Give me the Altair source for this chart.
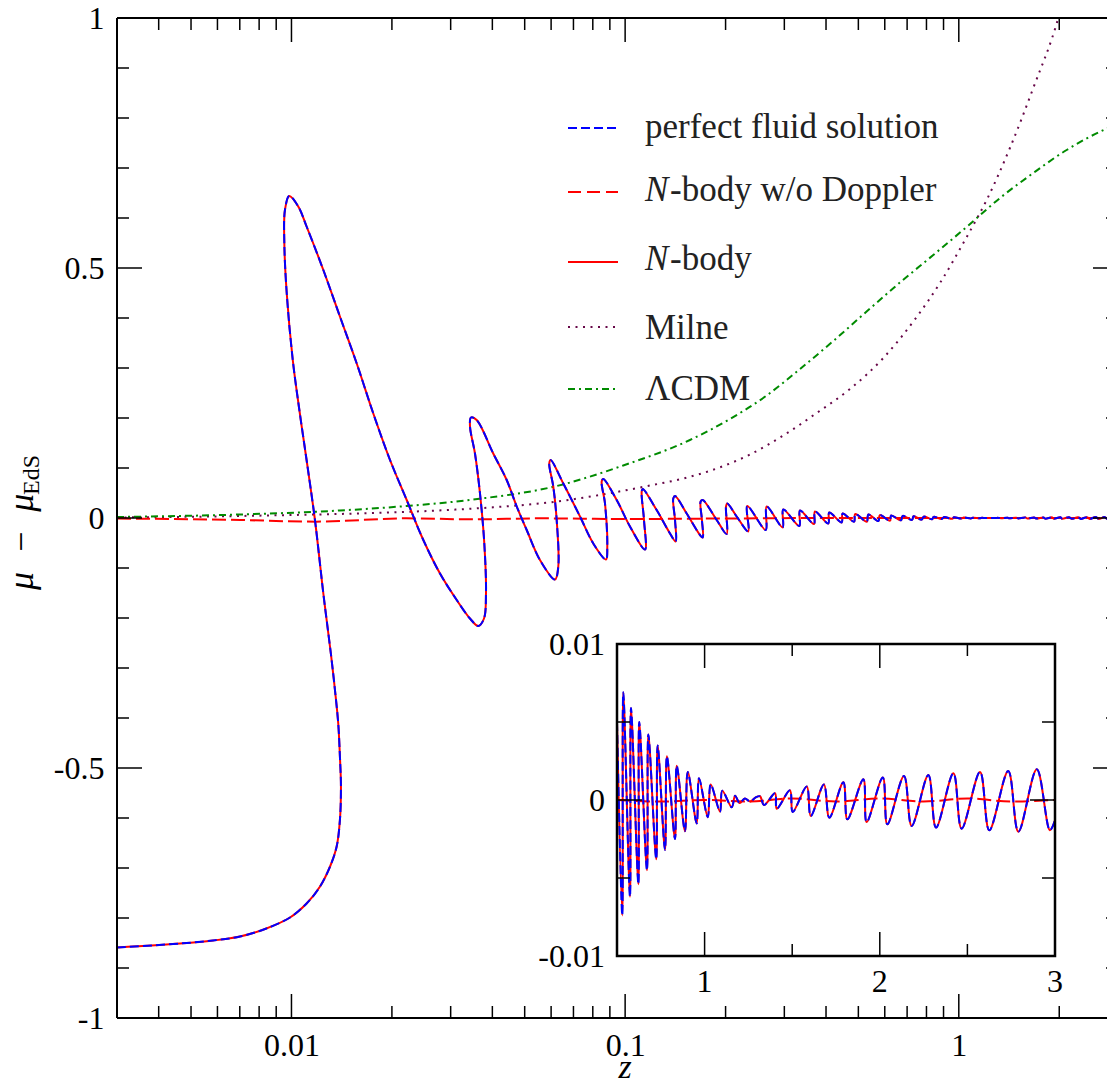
import altair as alt
import pandas as pd

# ---------------- data ----------------
# mu - mu_EdS along the light cone, in path order (the curve folds back in z)
curve_z = [
    0.00300, 0.004635, 0.005818, 0.00701, 0.00833, 0.00990, 0.01110, 0.01218, 0.01305,
    0.01366, 0.01397, 0.01407, 0.01397, 0.01381, 0.01350, 0.01314, 0.01246, 0.01176, 0.01110,
    0.01056, 0.01009, 0.00968, 0.00952, 0.00956, 0.00985, 0.01048, 0.01110, 0.01246, 0.01397,
    0.01569, 0.01759, 0.01974, 0.02215, 0.02484, 0.02787, 0.03128, 0.03428, 0.03630, 0.03776,
    0.03828, 0.03784, 0.03673, 0.03548, 0.03428, 0.03451, 0.03590, 0.04025, 0.04416, 0.04732,
    0.05070, 0.05556, 0.06163, 0.06305, 0.06235, 0.06090, 0.05924, 0.05981, 0.06528, 0.07324,
    0.08028, 0.08762, 0.08841, 0.08702, 0.08506, 0.08600, 0.09434, 0.1034, 0.1147, 0.1139,
    0.1121, 0.1129, 0.1243, 0.1363, 0.1417, 0.1411, 0.1394, 0.1411, 0.1529, 0.1676,
    0.1708, 0.1699, 0.1684, 0.1708, 0.1881, 0.2015, 0.2006, 0.2024, 0.2159, 0.2339,
    0.2323, 0.2638, 0.2656, 0.2966, 0.2979, 0.3327, 0.3343, 0.3681, 0.3707, 0.4063,
    0.4091, 0.4457, 0.4487, 0.4853, 0.4887,
    0.500, 0.530, 0.536, 0.574, 0.580, 0.622, 0.627, 0.671, 0.679, 0.724,
    0.732, 0.774, 0.785, 0.831, 0.841, 0.888, 0.904, 0.955, 0.968, 1.018,
    1.035, 1.088, 1.101, 1.155, 1.174, 1.20, 1.23, 1.26, 1.29, 1.316,
    1.339, 1.402, 1.412, 1.487, 1.503, 1.583, 1.606, 1.681, 1.712, 1.792,
    1.815, 1.906, 1.925, 2.017, 2.043, 2.138, 2.182, 2.277, 2.321, 2.420,
    2.467, 2.572, 2.625, 2.733, 2.791, 2.896, 2.971, 3.000,
]
curve_mu = [
    -0.859, -0.851, -0.845, -0.837, -0.822, -0.799, -0.771, -0.737, -0.697,
    -0.657, -0.604, -0.537, -0.477, -0.411, -0.344, -0.274, -0.151, -0.004, 0.116,
    0.216, 0.316, 0.449, 0.549, 0.616, 0.644, 0.623, 0.583, 0.496, 0.403,
    0.309, 0.209, 0.116, 0.036, -0.044, -0.111, -0.164, -0.201, -0.216, -0.201,
    -0.151, -0.051, 0.049, 0.129, 0.183, 0.201, 0.196, 0.129, 0.076, 0.023,
    -0.024, -0.084, -0.123, -0.097, -0.004, 0.063, 0.109, 0.116, 0.069, 0.003,
    -0.051, -0.083, -0.057, 0.029, 0.073, 0.078, 0.036, -0.017, -0.063, -0.004,
    0.053, 0.058, 0.016, -0.031, -0.047, -0.004, 0.039, 0.044, 0.009, -0.034,
    -0.039, -0.004, 0.033, 0.036, -0.004, -0.032, 0.023, 0.029, 0.003, -0.027,
    0.024, -0.024, 0.023, -0.019, 0.017, -0.016, 0.015, -0.012, 0.013, -0.011,
    0.011, -0.009, 0.009, -0.0074, 0.0080,
    0.0050, -0.0074, 0.0069, -0.0062, 0.0059, -0.0054, 0.0050, -0.0045, 0.0042, -0.0038,
    0.0035, -0.0032, 0.0028, -0.0025, 0.0022, -0.0020, 0.0018, -0.0015, 0.0014, -0.0011,
    0.0010, -0.00075, 0.0006, -0.00047, 0.00028, -0.0002, 0.0001, -0.0001, 0.00015, 0.00024,
    -0.00032, 0.00043, -0.00056, 0.00062, -0.00077, 0.00086, -0.00103, 0.0010, -0.00113, 0.00114,
    -0.00124, 0.00133, -0.00141, 0.00144, -0.00156, 0.00154, -0.00166, 0.0016, -0.00177, 0.00171,
    -0.00184, 0.0018, -0.00194, 0.00186, -0.00203, 0.00197, -0.00194, -0.0013,
]

# N-body without the Doppler term
nodop_z = [0.003, 0.00701, 0.01187, 0.0221, 0.0348, 0.0553, 0.10, 0.20, 0.40,
           0.50, 0.75, 1.00, 1.25, 1.50, 1.75, 2.00, 2.25, 2.50, 2.75, 3.00]
nodop_mu = [-0.001, -0.004, -0.0073, -0.0007, -0.0027, -0.0007, -0.002, -0.001, 0.0,
            0.0, -0.0001, 0.0, -0.0001, 0.0001, -0.0001, 0.0001, -0.0001, 0.0001, -0.0001, 0.0]

# reference cosmologies
milne_z = [0.003, 0.00701, 0.0394, 0.0624, 0.0943, 0.1187, 0.1494, 0.1881, 0.2367, 0.2979,
           0.3751, 0.4720, 0.5939, 0.7477, 0.8781, 1.056, 1.212, 1.423, 1.672, 1.987, 2.10]
milne_mu = [0.001, 0.004, 0.021, 0.033, 0.052, 0.065, 0.079, 0.099, 0.127, 0.165,
            0.210, 0.258, 0.320, 0.402, 0.470, 0.562, 0.636, 0.740, 0.860, 1.000, 1.06]

lcdm_z = [0.003, 0.00701, 0.01397, 0.02215, 0.0351, 0.0624, 0.0987, 0.1564, 0.2061, 0.2656,
          0.3342, 0.4205, 0.5294, 0.6663, 0.8385, 1.068, 1.329, 1.672, 2.105, 2.781, 3.0]
lcdm_mu = [0.002, 0.007, 0.015, 0.024, 0.037, 0.064, 0.105, 0.156, 0.198, 0.245,
           0.298, 0.354, 0.413, 0.471, 0.526, 0.585, 0.640, 0.690, 0.736, 0.779, 0.788]

# axis ticks
x_major = [0.01, 0.1, 1]
x_minor = [0.004, 0.005, 0.006, 0.007, 0.008, 0.009,
           0.02, 0.03, 0.04, 0.05, 0.06, 0.07, 0.08, 0.09,
           0.2, 0.3, 0.4, 0.5, 0.6, 0.7, 0.8, 0.9, 2, 3]
y_labels = [-1, -0.5, 0, 0.5, 1]
y_major = [-0.5, 0, 0.5]
y_minor = [-0.9, -0.8, -0.7, -0.6, -0.4, -0.3, -0.2, -0.1,
           0.1, 0.2, 0.3, 0.4, 0.6, 0.7, 0.8, 0.9]

inset_x_major = [1, 2]
inset_x_minor = [1.5, 2.5]
inset_x_labels = [1, 2, 3]
inset_y_major = [0]
inset_y_minor = [-0.005, 0.005]
inset_y_values = [-0.01, 0, 0.01]
inset_y_text = ["-0.01", "0", "0.01"]

legend_text = ["perfect fluid solution", "-body w/o Doppler", "-body", "Milne", "\u039bCDM"]

# ---------------- styling ----------------
FONT = "Liberation Serif"
BLUE, RED, GREEN, MAROON = "#0000ff", "#ff0000", "#008b00", "#670748"
W, PW, H = 990, 1001, 1000          # view width, full log-axis length, view height
LW = 2

curve = pd.DataFrame({"z": curve_z, "mu": curve_mu, "i": range(len(curve_z))})
nodop = pd.DataFrame({"z": nodop_z, "mu": nodop_mu, "i": range(len(nodop_z))})
milne = pd.DataFrame({"z": milne_z, "mu": milne_mu})
lcdm = pd.DataFrame({"z": lcdm_z, "mu": lcdm_mu})
one = pd.DataFrame({"k": [0]})

xs = alt.Scale(type="log", domain=[0.003, 3], range=[0, PW])
ys = alt.Scale(domain=[-1, 1], range=[H, 0], nice=False, zero=False)

x_axis = alt.Axis(values=x_major, format="~g", title=None, ticks=False, domain=False, grid=False,
                  labelFont=FONT, labelFontSize=32, labelColor="black", labelPadding=12,
                  labelFlush=False, labelOverlap=False)
y_axis = alt.Axis(values=y_labels, title=None, ticks=False, domain=False, grid=False,
                  labelExpr="datum.value < 0 ? '-' + format(-datum.value, '~g') : format(datum.value, '~g')",
                  labelFont=FONT, labelFontSize=32, labelColor="black", labelPadding=13,
                  labelFlush=False, labelOverlap=False)


def X(f="z"):
    return alt.X(f"{f}:Q", scale=xs, axis=x_axis)


def Y(f="mu"):
    return alt.Y(f"{f}:Q", scale=ys, axis=y_axis)


def ticks_df(v):
    return pd.DataFrame({"t": v})


# ---------------- main panel ----------------
main_lines = [
    alt.Chart(milne).mark_line(color=MAROON, strokeWidth=LW, strokeDash=[2, 5.5], clip=True,
                               interpolate="monotone").encode(x=X(), y=Y()),
    alt.Chart(lcdm).mark_line(color=GREEN, strokeWidth=LW, strokeDash=[7, 4, 2, 4], clip=True,
                              interpolate="monotone").encode(x=X(), y=Y()),
    alt.Chart(nodop).mark_line(color=RED, strokeWidth=LW, strokeDash=[14, 5], clip=True,
                               interpolate="monotone").encode(x=X(), y=Y(), order="i:Q"),
    alt.Chart(curve).mark_line(color=RED, strokeWidth=LW, clip=True,
                               interpolate="catmull-rom").encode(x=X(), y=Y(), order="i:Q"),
    alt.Chart(curve).mark_line(color=BLUE, strokeWidth=LW, strokeDash=[9, 4], clip=True,
                               interpolate="catmull-rom").encode(x=X(), y=Y(), order="i:Q"),
]

tick_kw = dict(color="black", strokeWidth=1.5)
main_ticks = []
for vals, ln in ((x_major, 24), (x_minor, 12)):
    main_ticks.append(alt.Chart(ticks_df(vals)).mark_rule(**tick_kw).encode(
        x=X("t"), y=alt.value(H), y2=alt.value(H - ln)))
    main_ticks.append(alt.Chart(ticks_df(vals)).mark_rule(**tick_kw).encode(
        x=X("t"), y=alt.value(0), y2=alt.value(ln)))
for vals, ln in ((y_major, 25), (y_minor, 12)):
    main_ticks.append(alt.Chart(ticks_df(vals)).mark_rule(**tick_kw).encode(
        y=Y("t"), x=alt.value(0), x2=alt.value(ln)))
    main_ticks.append(alt.Chart(ticks_df(vals)).mark_rule(**tick_kw).encode(
        y=Y("t"), x=alt.value(PW - ln), x2=alt.value(PW)))

frame_kw = dict(color="black", strokeWidth=2)
main_frame = [
    alt.Chart(one).mark_rule(**frame_kw).encode(x=alt.value(0), x2=alt.value(PW), y=alt.value(0)),
    alt.Chart(one).mark_rule(**frame_kw).encode(x=alt.value(0), x2=alt.value(PW), y=alt.value(H)),
    alt.Chart(one).mark_rule(**frame_kw).encode(x=alt.value(0), y=alt.value(0), y2=alt.value(H)),
]

# axis titles
titles = [
    alt.Chart(one).mark_text(font=FONT, fontSize=34, fontStyle="italic", align="center",
                             baseline="alphabetic", color="black").encode(
        x=alt.value(508), y=alt.value(1060), text=alt.value("z")),
    alt.Chart(one).mark_text(font=FONT, fontSize=36, fontStyle="italic", angle=270, align="left",
                             baseline="alphabetic", color="black").encode(
        x=alt.value(-84), y=alt.value(572), text=alt.value("\u03bc\u2002\u2212\u2002\u03bc")),
    alt.Chart(one).mark_text(font=FONT, fontSize=24, angle=270, align="left",
                             baseline="alphabetic", color="black").encode(
        x=alt.value(-78), y=alt.value(477), text=alt.value("EdS")),
]

# legend
leg_y = [110, 174, 244, 309, 371]
leg_base = [119.5, 183, 252, 321, 382]
leg_styles = [
    dict(color=BLUE, strokeDash=[9, 4]),
    dict(color=RED, strokeDash=[13, 6]),
    dict(color=RED),
    dict(color=MAROON, strokeDash=[2, 5.5]),
    dict(color=GREEN, strokeDash=[7, 4, 2, 4]),
]
legend = []
txt_kw = dict(font=FONT, fontSize=35, align="left", baseline="alphabetic", color="#222222")
for k in range(5):
    legend.append(alt.Chart(one).mark_rule(strokeWidth=LW, **leg_styles[k]).encode(
        x=alt.value(451), x2=alt.value(501), y=alt.value(leg_y[k])))
    if k in (1, 2):
        legend.append(alt.Chart(one).mark_text(fontStyle="italic", **txt_kw).encode(
            x=alt.value(528), y=alt.value(leg_base[k]), text=alt.value("N")))
        legend.append(alt.Chart(one).mark_text(**txt_kw).encode(
            x=alt.value(553), y=alt.value(leg_base[k]), text=alt.value(legend_text[k])))
    else:
        legend.append(alt.Chart(one).mark_text(**txt_kw).encode(
            x=alt.value(528), y=alt.value(leg_base[k]), text=alt.value(legend_text[k])))

main_layer = alt.layer(*main_lines, *main_ticks, *main_frame, *titles, *legend)

# ---------------- inset ----------------
IX0, IX1, IY0, IY1 = 500, 938, 626, 938
xi = alt.Scale(domain=[0.5, 3], range=[IX0, IX1], nice=False, zero=False)
yi = alt.Scale(domain=[-0.01, 0.01], range=[IY1, IY0], nice=False, zero=False)


def XI(f="z"):
    return alt.X(f"{f}:Q", scale=xi, axis=None)


def YI(f="mu"):
    return alt.Y(f"{f}:Q", scale=yi, axis=None)


curve_in = curve[curve.z >= 0.5]
nodop_in = nodop[nodop.z >= 0.5]

inset = [
    alt.Chart(one).mark_rect(color="white").encode(
        x=alt.value(IX0), x2=alt.value(IX1), y=alt.value(IY0), y2=alt.value(IY1)),
    alt.Chart(nodop_in).mark_line(color=RED, strokeWidth=LW, strokeDash=[14, 5],
                                  interpolate="monotone").encode(x=XI(), y=YI(), order="i:Q"),
    alt.Chart(curve_in).mark_line(color=RED, strokeWidth=LW,
                                  interpolate="catmull-rom").encode(x=XI(), y=YI(), order="i:Q"),
    alt.Chart(curve_in).mark_line(color=BLUE, strokeWidth=LW, strokeDash=[9, 4],
                                  interpolate="catmull-rom").encode(x=XI(), y=YI(), order="i:Q"),
]
for vals, ln in ((inset_x_major, 24), (inset_x_minor, 12)):
    inset.append(alt.Chart(ticks_df(vals)).mark_rule(**tick_kw).encode(
        x=XI("t"), y=alt.value(IY1), y2=alt.value(IY1 - ln)))
    inset.append(alt.Chart(ticks_df(vals)).mark_rule(**tick_kw).encode(
        x=XI("t"), y=alt.value(IY0), y2=alt.value(IY0 + ln)))
for vals, ln in ((inset_y_major, 25), (inset_y_minor, 13)):
    inset.append(alt.Chart(ticks_df(vals)).mark_rule(**tick_kw).encode(
        y=YI("t"), x=alt.value(IX0), x2=alt.value(IX0 + ln)))
    inset.append(alt.Chart(ticks_df(vals)).mark_rule(**tick_kw).encode(
        y=YI("t"), x=alt.value(IX1 - ln), x2=alt.value(IX1)))

inset.append(alt.Chart(pd.DataFrame({"t": inset_x_labels, "s": [str(v) for v in inset_x_labels]}))
             .mark_text(font=FONT, fontSize=32, align="center", baseline="alphabetic", color="black")
             .encode(x=XI("t"), y=alt.value(974), text="s:N"))
inset.append(alt.Chart(pd.DataFrame({"t": inset_y_values, "s": inset_y_text}))
             .mark_text(font=FONT, fontSize=32, align="right", baseline="alphabetic", color="black",
                        dy=10.6)
             .encode(y=YI("t"), x=alt.value(IX0 - 12), text="s:N"))
inset.append(alt.Chart(one).mark_rect(fillOpacity=0, stroke="black", strokeWidth=2.5).encode(
    x=alt.value(IX0), x2=alt.value(IX1), y=alt.value(IY0), y2=alt.value(IY1)))

inset_layer = alt.layer(*inset)

chart = (
    alt.layer(main_layer, inset_layer)
    .resolve_scale(x="independent", y="independent")
    .properties(width=W, height=H, autosize=alt.AutoSizeParams(type="none"),
                padding={"left": 117, "top": 18, "right": 0, "bottom": 69},
                background="white")
    .configure_view(strokeOpacity=0)
)

chart.save("out.html", embed_options={"renderer": "svg", "actions": False})
